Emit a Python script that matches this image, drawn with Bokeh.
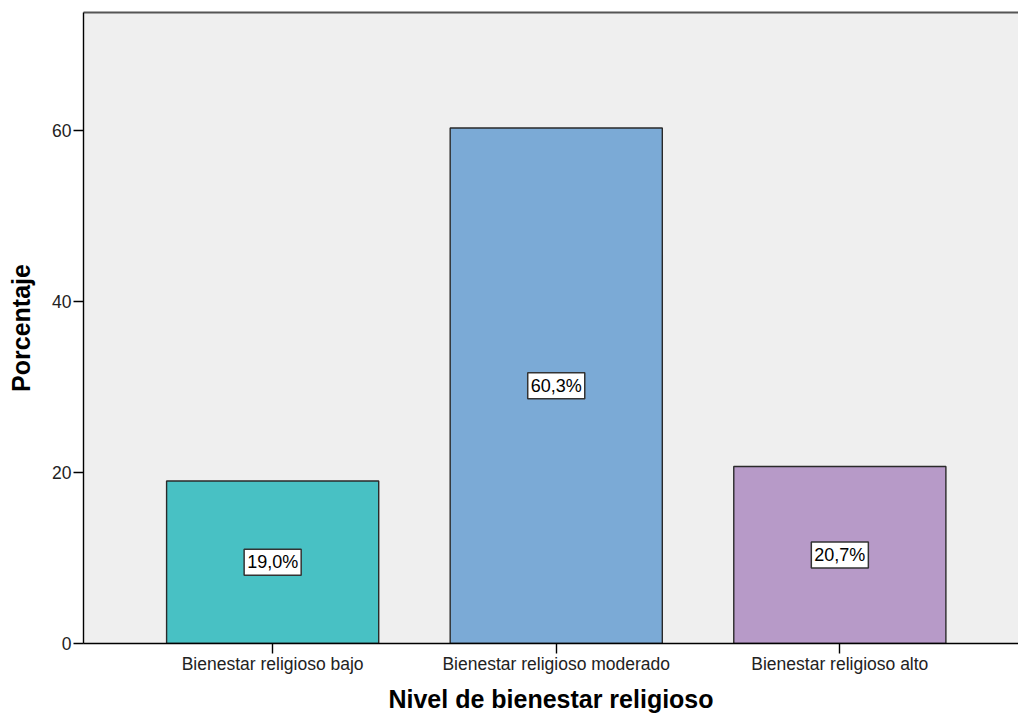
from bokeh.plotting import figure
from bokeh.models import ColumnDataSource, FixedTicker, Range1d, LinearAxis
from bokeh.core.properties import value
from bokeh.embed import file_html
from bokeh.resources import INLINE

categories = ["Bienestar religioso bajo", "Bienestar religioso moderado", "Bienestar religioso alto"]
percentages = [19.0, 60.3, 20.7]
bar_colors = ["#48C1C4", "#7BAAD6", "#B79AC8"]
y_ticks = [0, 20, 40, 60]

xs = list(range(1, len(categories) + 1))
source = ColumnDataSource(dict(
    x=xs,
    top=percentages,
    mid=[v / 2 for v in percentages],
    color=bar_colors,
    label=[f"{v:.1f}%".replace(".", ",") for v in percentages],
))

p = figure(width=1018, height=715, output_backend="svg", toolbar_location=None,
           x_range=Range1d(0.333, 3.63), y_range=Range1d(0, 73.8),
           min_border_left=83, min_border_right=0, min_border_top=12, min_border_bottom=72)

p.background_fill_color = "#EFEFEF"
p.border_fill_color = "white"
p.outline_line_color = None
p.grid.visible = False

p.vbar(x="x", top="top", width=0.748, bottom=0, source=source,
       fill_color="color", line_color="#2A2A2A", line_width=1.4)

# value labels in white boxes at half bar height
p.text(x="x", y="mid", text="label", source=source,
       text_align="center", text_baseline="middle",
       text_font=value("Liberation Sans"), text_font_size="18px", text_color="black",
       background_fill_color="white", border_line_color="#333333",
       border_line_width=1.5, padding=3)

xaxis = p.below[0]
yaxis = p.left[0]
yaxis.ticker = FixedTicker(ticks=y_ticks)
xaxis.ticker = FixedTicker(ticks=xs)
xaxis.major_label_overrides = {x: c for x, c in zip(xs, categories)}

for ax in (xaxis, yaxis):
    ax.axis_line_color = "black"
    ax.axis_line_width = 1.4
    ax.major_tick_line_color = "black"
    ax.major_tick_line_width = 1.4
    ax.major_tick_in = 0
    ax.major_tick_out = 10
    ax.minor_tick_line_color = None
    ax.major_label_text_font = "Liberation Sans"
    ax.major_label_text_font_size = "17.5px"
    ax.major_label_text_color = "#222222"
    ax.axis_label_text_font = "Liberation Sans"
    ax.axis_label_text_font_style = "bold"
    ax.axis_label_text_font_size = "25px"
    ax.axis_label_text_color = "black"

xaxis.axis_label = "Nivel de bienestar religioso"
yaxis.axis_label = "Porcentaje"
xaxis.major_label_standoff = 0
xaxis.axis_label_standoff = 8
yaxis.major_label_standoff = 2
yaxis.axis_label_standoff = 14

# top frame edge drawn as a bare axis line
top = LinearAxis(ticker=FixedTicker(ticks=[]), major_label_text_font_size="0px",
                 axis_line_color="#555555", axis_line_width=2,
                 major_tick_line_color=None, minor_tick_line_color=None)
p.add_layout(top, "above")

open("out.html", "w").write(file_html(p, INLINE))
